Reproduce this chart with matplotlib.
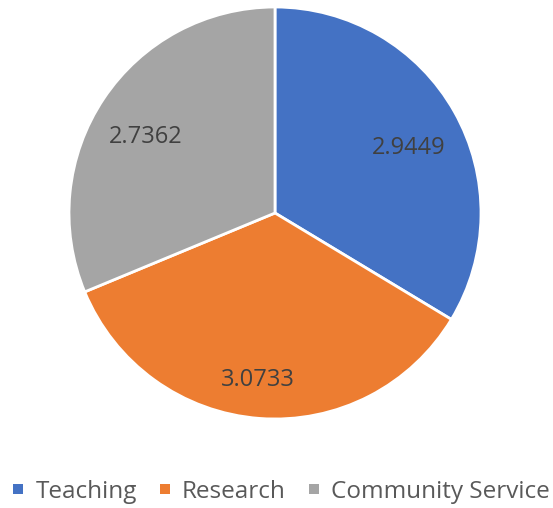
import numpy as np
import matplotlib
matplotlib.use('Agg')
import matplotlib.pyplot as plt

categories = ['Teaching', 'Research', 'Community Service']
values = [2.9449, 3.0733, 2.7362]
colors = ['#4472C4', '#ED7D31', '#A5A5A5']

# label placement inside each slice: (fraction of radius, angle shift from mid-angle in deg)
label_dist = [0.72, 0.815, 0.73]
label_shift = [-3.5, -1.5, 3.4]

plt.rcParams['font.family'] = ['Open Sans', 'DejaVu Sans']

fig = plt.figure(figsize=(5.53, 5.08), dpi=100)
# pie center ~ (275, 213) px, radius ~206 px
ax = fig.add_axes([(275 - 206) / 553, 1 - (213 + 206) / 508, 412 / 553, 412 / 508])

wedges, _ = ax.pie(values, colors=colors, startangle=90, counterclock=False,
                   wedgeprops={'edgecolor': 'white', 'linewidth': 2})
ax.set_xlim(-1, 1)
ax.set_ylim(-1, 1)
ax.set_aspect('equal')

for w, v, d, s in zip(wedges, values, label_dist, label_shift):
    ang = np.deg2rad((w.theta1 + w.theta2) / 2 + s)
    ax.text(d * np.cos(ang), d * np.sin(ang), f'{v:.4f}', ha='center', va='center',
            fontsize=17, color='#404040')

handles = [plt.Line2D([], [], marker='s', linestyle='', color=c, markersize=6.5,
                      markeredgewidth=0) for c in colors]
fig.legend(handles, categories, loc='center', bbox_to_anchor=(0.5 + 5 / 553, 1 - 492 / 508),
           ncol=3, frameon=False, fontsize=17.5, labelcolor='#595959', handletextpad=0.5,
           columnspacing=0.95, handlelength=0.4, borderaxespad=0, borderpad=0)

fig.savefig('out.png', dpi=100)
